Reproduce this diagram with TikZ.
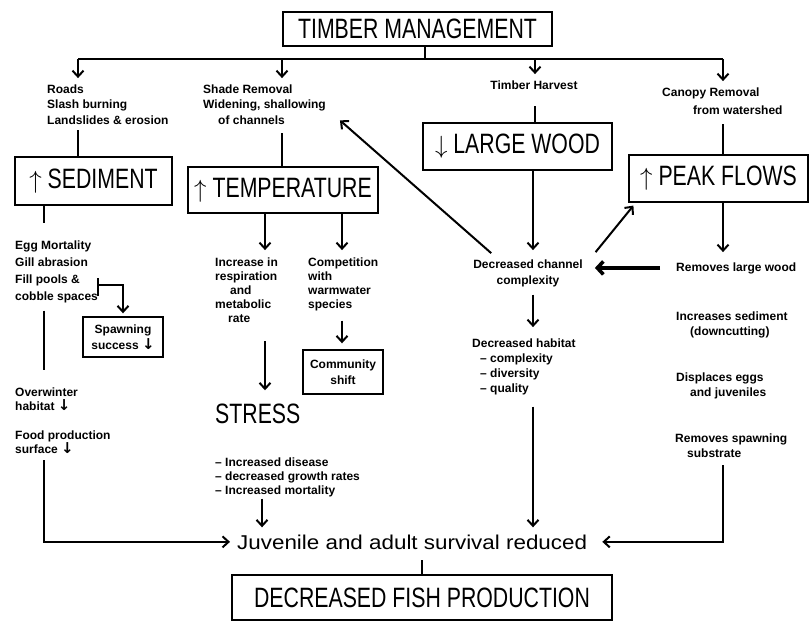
\documentclass[tikz,border=0pt]{standalone}
\usepackage{fontspec}
\setmainfont{Liberation Sans}
\newfontfamily\headfont[FakeStretch=0.76]{Liberation Sans}
\newfontfamily\midfont[FakeStretch=1.12]{Liberation Sans}
\newfontfamily\arrowfont{DejaVu Sans}
\usetikzlibrary{arrows.meta}

\tikzset{
  flow/.style={line width=2pt},
  arr/.style={flow,-{Straight Barb[length=6pt,width=11pt]}},
  bigarr/.style={line width=3.6pt,-{Straight Barb[length=6pt,width=13pt]}},
  headbox/.style={draw,line width=1.2pt,inner sep=0pt,
    font=\headfont\fontsize{28}{30}\selectfont},
  smallbox/.style={draw,line width=1.4pt,inner sep=0pt,align=center,
    font=\bfseries\fontsize{12}{16}\selectfont},
  % multi-line notes sit on the baseline of their last line
  note/.style={inner sep=0pt,align=left,anchor=base west,
    font=\bfseries\fontsize{12}{15.5}\selectfont},
}
\newcommand{\dn}{{\arrowfont\bfseries\fontsize{15}{15}\selectfont ↓}}

\begin{document}
\begin{tikzpicture}[x=1pt,y=-1pt]
  \useasboundingbox (0,0) rectangle (810,625);

  % boxes
  \node[headbox,minimum width=269pt,minimum height=34pt] (tm) at (417.5,29) {TIMBER MANAGEMENT};
  \node[headbox,minimum width=157pt,minimum height=48pt] (sed) at (93.5,181) {$\uparrow$ SEDIMENT};
  \node[headbox,minimum width=190pt,minimum height=46pt] (temp) at (283,190) {$\uparrow$ TEMPERATURE};
  \node[headbox,minimum width=189pt,minimum height=47pt] (lw) at (517.5,146.5) {$\downarrow$ LARGE WOOD};
  \node[headbox,minimum width=179pt,minimum height=47pt] (pf) at (718.5,178.5) {$\uparrow$ PEAK FLOWS};
  \node[headbox,minimum width=380pt,minimum height=45pt] (fish) at (422,597.5) {DECREASED FISH PRODUCTION};
  \node[smallbox,minimum width=80pt,minimum height=40pt] (spawn) at (123,337) {Spawning\\success \dn};
  \node[smallbox,minimum width=80pt,minimum height=44pt] (comm) at (343,372) {Community\\shift};

  % texts
  \node[note] (roads) at (47,124) {Roads\\Slash burning\\Landslides \& erosion};
  \node[note] (shade) at (203,124) {Shade Removal\\Widening, shallowing\\\hspace{15pt}of channels};
  \node[note,anchor=base] (harvest) at (534,89) {Timber Harvest};
  \node[note,font=\bfseries\fontsize{12}{18}\selectfont] (canopy) at (662,114)
    {Canopy Removal\\\hspace{31pt}from watershed};
  \node[note,font=\bfseries\fontsize{12}{17}\selectfont] (sedfx) at (15,300)
    {Egg Mortality\\Gill abrasion\\Fill pools \&\\cobble spaces};
  \node[note,font=\bfseries\fontsize{12}{14}\selectfont] (winter) at (15,410) {Overwinter\\habitat \dn};
  \node[note,font=\bfseries\fontsize{12}{14}\selectfont] (food) at (15,453) {Food production\\surface \dn};
  \node[note,font=\bfseries\fontsize{12}{14}\selectfont] (resp) at (215,322)
    {Increase in\\respiration\\\hspace{15pt}and\\metabolic\\\hspace{13pt}rate};
  \node[note,font=\bfseries\fontsize{12}{14}\selectfont] (comp) at (308,308)
    {Competition\\with\\warmwater\\species};
  \node[note,font=\headfont\fontsize{28}{30}\selectfont] (stress) at (215,423) {STRESS};
  \node[note,font=\bfseries\fontsize{12}{14}\selectfont] (stressfx) at (215,494)
    {-- Increased disease\\-- decreased growth rates\\-- Increased mortality};
  \node[note,anchor=base,align=center,font=\bfseries\fontsize{12}{16}\selectfont] (dcc) at (528,284)
    {Decreased channel\\complexity};
  \node[note,font=\bfseries\fontsize{12}{15}\selectfont] (habitat) at (472,392)
    {Decreased habitat\\\hspace{8pt}-- complexity\\\hspace{8pt}-- diversity\\\hspace{8pt}-- quality};
  \node[note] (rlw) at (676,271) {Removes large wood};
  \node[note,font=\bfseries\fontsize{12}{15}\selectfont] (incsed) at (676,335)
    {Increases sediment\\\hspace{14pt}(downcutting)};
  \node[note,font=\bfseries\fontsize{12}{15}\selectfont] (disp) at (676,396)
    {Displaces eggs\\\hspace{14pt}and juveniles};
  \node[note,font=\bfseries\fontsize{12}{15}\selectfont] (rsp) at (675,457)
    {Removes spawning\\\hspace{12pt}substrate};
  \node[note,font=\midfont\fontsize{20}{22}\selectfont] (juv) at (237,549)
    {Juvenile and adult survival reduced};

  % branch bar
  \coordinate (top) at (425,59);
  \coordinate (bL) at (78,59);
  \coordinate (bS) at (282,59);
  \coordinate (bH) at (535,59);
  \coordinate (bC) at (723,59);
  \draw[flow] (tm.south -| top) -- (top);
  \draw[flow] (bL) -- (bC);
  \foreach \n/\c in {roads/bL,shade/bS,harvest/bH,canopy/bC}
    \draw[arr,shorten >=6pt] (\c) -- (\c |- \n.north);

  % columns
  \coordinate (lcol) at (44,0);
  \coordinate (tcol) at (265,0);
  \coordinate (ccol) at (342,0);
  \coordinate (scol) at (262,0);
  \coordinate (mcol) at (533,0);

  \draw[flow,shorten <=6pt] (roads.south -| bL) -- (sed.north -| bL);
  \draw[flow,shorten <=9pt] (shade.south -| bS) -- (temp.north -| bS);
  \draw[flow,shorten <=17pt] (harvest.south -| bH) -- (lw.north -| bH);
  \draw[flow,shorten <=10pt] (canopy.south -| bC) -- (pf.north -| bC);

  % sediment
  \draw[flow,shorten >=17pt] (sed.south -| lcol) -- (sedfx.north -| lcol);
  \coordinate (brkT) at (98,278);
  \coordinate (brkB) at (98,296);
  \coordinate (brk) at (98,285);
  \draw[flow] (brkT) -- (brkB);
  \draw[arr,shorten >=3pt] (brk) -| (spawn.north);
  \draw[flow,shorten <=8pt,shorten >=17pt] (sedfx.south -| lcol) -- (winter.north -| lcol);
  \draw[arr,shorten <=7pt,shorten >=7pt] (food.south -| lcol) |- (juv.west);

  % temperature
  \draw[arr,shorten >=7pt] (temp.south -| tcol) -- (resp.north -| tcol);
  \draw[arr,shorten >=7pt] (temp.south -| ccol) -- (comp.north -| ccol);
  \draw[arr,shorten <=10pt,shorten >=6pt] (comp.south -| ccol) -- (comm.north -| ccol);
  \draw[arr,shorten <=19pt,shorten >=13pt] (resp.south -| tcol) -- (stress.north -| tcol);
  \draw[arr,shorten <=2pt,shorten >=7pt] (stressfx.south -| scol) -- (juv.north -| scol);

  % large wood
  \draw[arr,shorten >=9pt] (lw.south -| mcol) -- (dcc.north -| mcol);
  \draw[arr,shorten <=8pt,shorten >=11pt] (dcc.south -| mcol) -- (habitat.north -| mcol);
  \draw[arr,shorten <=12pt,shorten >=7pt] (habitat.south -| mcol) -- (juv.north -| mcol);
  \draw[arr,shorten <=9pt] ([xshift=-30pt]dcc.north) -- ([shift={(14,-4)}]shade.south east);
  \draw[arr,shorten <=9pt] ([xshift=7pt]dcc.north east) -- ([shift={(5,3)}]pf.south west);

  % peak flows
  \draw[arr,shorten >=10pt] (pf.south -| bC) -- (rlw.north -| bC);
  \draw[bigarr,shorten <=16pt,shorten >=12pt] (rlw.west) -- (rlw.west -| dcc.east);
  \draw[arr,shorten <=8pt,shorten >=15pt] (rsp.south -| bC) |- (juv.east);

  % bottom
  \draw[flow,shorten <=11pt] (juv.south -| fish.north) -- (fish.north);
\end{tikzpicture}
\end{document}
